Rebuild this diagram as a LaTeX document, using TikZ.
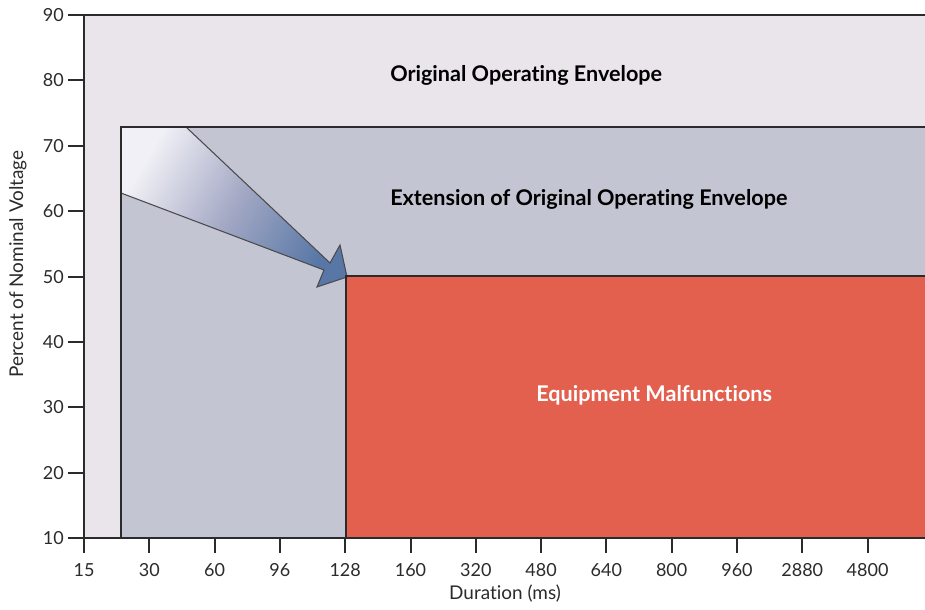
\documentclass[tikz,border=0pt]{standalone}
\usepackage{fontspec}
\setmainfont{Lato}[Ligatures=NoCommon]
\definecolor{envbg}{HTML}{E9E5EB}
\definecolor{extfill}{HTML}{C4C5D3}
\definecolor{malred}{HTML}{E3604F}
\definecolor{arrowdark}{HTML}{5877A6}
\definecolor{arrowmid}{HTML}{A3A8C4}
\definecolor{arrowlight}{HTML}{F1F0F6}
\definecolor{ink}{HTML}{2B2B2B}
\tikzset{
  axisline/.style={draw=ink, line width=1.5pt},
  regionedge/.style={draw=ink, line width=1.2pt},
  tickmark/.style={draw=ink, line width=1.5pt},
  ticklabel/.style={font=\fontsize{13.5}{15}\selectfont, text=ink, inner sep=0pt},
  axislabel/.style={font=\fontsize{14.2}{16}\selectfont, text=ink, inner sep=0pt},
  zonelabel/.style={font=\fontsize{16.2}{18}\selectfont\bfseries, inner sep=0pt, anchor=west},
  bigarrow/.style={top color=arrowlight, bottom color=arrowdark, middle color=arrowmid,
                   shading angle=60, draw=ink!85, line width=0.8pt, line join=miter},
}
\begin{document}
\begin{tikzpicture}[x=0.75pt,y=-0.75pt]
\useasboundingbox (0,0) rectangle (925,610);
\fill[white] (0,0) rectangle (925,610);

% operating zones
\fill[envbg]   (84,15)   rectangle (925,538);
\fill[extfill] (121,127) rectangle (925,538);
\fill[malred]  (346,276) rectangle (925,538);

% shaded arrow from the extended corner to the malfunction corner
\shade[bigarrow] (121,127) -- (186,127) -- (330,263) -- (340,245) -- (347,277)
   -- (317,287) -- (324,270) -- (121,193) -- cycle;

% zone borders
\draw[regionedge] (121,538) -- (121,127) -- (925,127);
\draw[regionedge] (346,538) -- (346,276) -- (925,276);

% axes
\draw[axisline] (68,15) -- (925,15);
\draw[axisline] (84,15) -- (84,553);
\draw[axisline] (68,538) -- (925,538);

% y ticks and labels
\foreach \v [count=\i from 0] in {90,80,70,60,50,40,30,20,10} {
  \draw[tickmark] (68,15+65.4*\i) -- (84,15+65.4*\i);
  \node[ticklabel, anchor=east] (ylab\v) at (64,15+65.4*\i) {\v};
}

% x ticks and labels
\foreach \v [count=\i from 0] in {15,30,60,96,128,160,320,480,640,800,960,2880,4800} {
  \draw[tickmark] (84+65.3*\i,538) -- (84+65.3*\i,553);
  \node[ticklabel] (xlab\v) at (84+65.3*\i,570) {\v};
}

% axis titles
\node[axislabel] (xtitle) at (505,594) {Duration (ms)};
\node[axislabel, rotate=90] (ytitle) at (18,264) {Percent of Nominal Voltage};

% zone labels
\node[zonelabel, text=black] (orig) at (390,75) {Original Operating Envelope};
\node[zonelabel, text=black] (ext) at (390,199) {Extension of Original Operating Envelope};
\node[zonelabel, text=white] (mal) at (536,395) {Equipment Malfunctions};
\end{tikzpicture}
\end{document}
